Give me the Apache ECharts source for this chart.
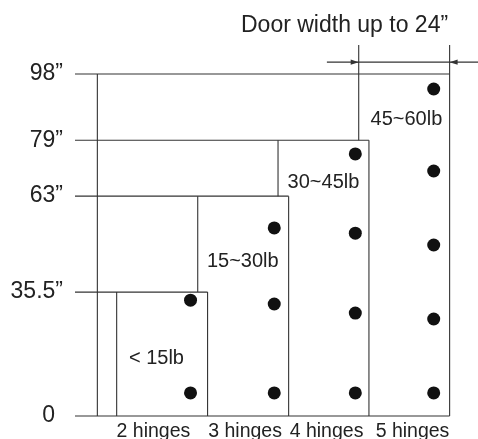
<!DOCTYPE html>
<html>
<head>
<meta charset="utf-8">
<script src="https://cdn.jsdelivr.net/npm/echarts@6/dist/echarts.min.js"></script>
<style>
html,body{margin:0;padding:0;background:#fff;}
#chart{width:478px;height:439px;}
</style>
</head>
<body>
<div id="chart"></div>
<script>
// ---- data ----
const heights = [35.5, 63, 79, 98];            // door height limits (inches)
const rectLeft = [11, 32.4, 53.6, 74.9];       // left edge of each door box
const doorWidth = 24;                          // door width (inches)
const frameX = 5.9;                            // outer frame vertical line
const hingeX = [30.5, 52.6, 74, 94.7];         // hinge column for each door
const hingeY = [
  [6.6, 33.2],
  [6.6, 32.1, 53.9],
  [6.6, 29.5, 52.4, 75.1],
  [6.6, 27.8, 49.0, 70.2, 93.7]
];
const weightLabels = ['< 15lb', '15~30lb', '30~45lb', '45~60lb'];
const weightPos = [[21.5, 16.6], [44.3, 44.4], [65.6, 67], [87.5, 85.1]];
const hingeLabels = ['2 hinges', '3 hinges', '4 hinges', '5 hinges'];
const hingeLabelX = [20.7, 44.9, 66.4, 89.1];
const yTicks = [0, 35.5, 63, 79, 98];
const dimY = 101.4;          // dimension line height
const extTop = 106.3;        // top of extension lines
const dimStart = 66.5;       // left end of dimension line
const dimEnd = 113.7;        // right end of dimension line
const titleText = 'Door width up to 24\u201d';

// ---- build segments from data ----
const segments = [];
const last = heights.length - 1;
const right = i => rectLeft[i] + doorWidth;
heights.forEach((h, i) => segments.push([0, h, right(i), h]));
segments.push([0, 0, right(last), 0]);
segments.push([frameX, 0, frameX, heights[last]]);
heights.forEach((h, i) => {
  const bottom = i === 0 ? 0 : heights[i - 1];
  const top = i === last ? extTop : h;
  segments.push([rectLeft[i], bottom, rectLeft[i], top]);
  segments.push([right(i), 0, right(i), top]);
});
segments.push([dimStart, dimY, dimEnd, dimY]);
const arrows = [[rectLeft[last], dimY, 1], [right(last), dimY, -1]];

const dots = [];
hingeY.forEach((ys, i) => ys.forEach(y => dots.push([hingeX[i], y])));

const weightData = weightPos.map((p, i) => [p[0], p[1], i]);

const FONT = '"Liberation Sans", Arial, sans-serif';
const INK = '#222';
const LINE = '#333';

const chart = echarts.init(document.getElementById('chart'));
chart.setOption({
  animation: false,
  backgroundColor: '#fff',
  title: {
    text: titleText,
    left: 236,
    top: 9,
    textStyle: { fontFamily: FONT, fontSize: 23, fontWeight: 'normal', color: INK }
  },
  grid: { left: 75, right: 28, top: 74, bottom: 23, containLabel: false, outerBoundsMode: 'none' },
  xAxis: {
    type: 'value', min: 0, max: 99,
    axisLine: { show: false }, axisTick: { show: false }, splitLine: { show: false },
    axisLabel: {
      customValues: hingeLabelX,
      formatter: v => hingeLabels[hingeLabelX.indexOf(v)] || '',
      fontFamily: FONT, fontSize: 19.5, color: INK, margin: 6
    }
  },
  yAxis: {
    type: 'value', min: 0, max: 98,
    axisLine: { show: false }, axisTick: { show: false }, splitLine: { show: false },
    axisLabel: {
      customValues: yTicks,
      formatter: v => v === 0 ? '{z|0}' : v + '\u201d',
      fontFamily: FONT, fontSize: 23, color: INK, margin: 12,
      rich: { z: { fontFamily: FONT, fontSize: 23, color: INK, padding: [0, 8, 0, 0] } }
    }
  },
  series: [
    {
      type: 'custom', clip: false, silent: true,
      data: segments,
      encode: { x: [0, 2], y: [1, 3] },
      renderItem: (params, api) => {
        const a = api.coord([api.value(0), api.value(1)]);
        const b = api.coord([api.value(2), api.value(3)]);
        return { type: 'line', shape: { x1: a[0], y1: a[1], x2: b[0], y2: b[1] },
                 style: { stroke: LINE, lineWidth: 1.1 } };
      }
    },
    {
      type: 'custom', clip: false, silent: true,
      data: arrows,
      encode: { x: 0, y: 1 },
      renderItem: (params, api) => {
        const p = api.coord([api.value(0), api.value(1)]);
        const d = api.value(2);
        return { type: 'polygon',
                 shape: { points: [[p[0], p[1]], [p[0] - d * 8, p[1] - 2.6], [p[0] - d * 8, p[1] + 2.6]] },
                 style: { fill: LINE } };
      }
    },
    {
      type: 'scatter', silent: true,
      data: dots, symbol: 'circle', symbolSize: 13,
      itemStyle: { color: '#111', opacity: 1 }
    },
    {
      type: 'custom', clip: false, silent: true,
      data: weightData,
      encode: { x: 0, y: 1 },
      renderItem: (params, api) => {
        const p = api.coord([api.value(0), api.value(1)]);
        return { type: 'text',
                 style: { text: weightLabels[api.value(2)], x: p[0], y: p[1],
                          align: 'center', verticalAlign: 'middle',
                          font: '20px ' + FONT, fill: INK } };
      }
    }
  ]
});
</script>
</body>
</html>
